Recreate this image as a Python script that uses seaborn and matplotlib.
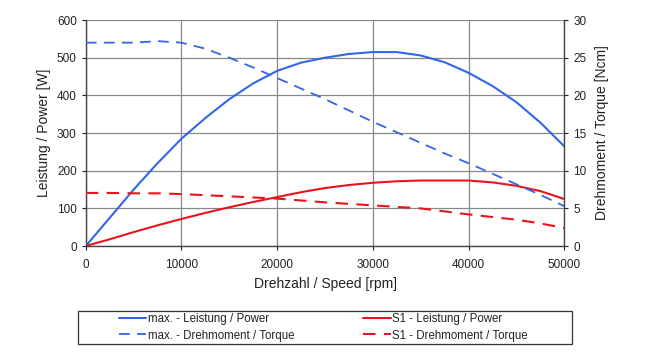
import matplotlib
matplotlib.use("Agg")
import matplotlib.pyplot as plt
from matplotlib.patches import Rectangle
import seaborn as sns
import pandas as pd

sns.set_theme(style="white")
plt.rcParams['font.family'] = ['Liberation Sans', 'DejaVu Sans']

speed = [0, 2500, 5000, 7500, 10000, 12500, 15000, 17500, 20000, 22500, 25000, 27500,
         30000, 32500, 35000, 37500, 40000, 42500, 45000, 47500, 50000]
max_power = [0, 75, 150, 220, 285, 340, 390, 432, 465, 487, 500, 510,
             515, 515, 506, 488, 460, 425, 382, 328, 265]
max_torque = [27.0, 27.0, 27.0, 27.2, 27.0, 26.2, 25.0, 23.7, 22.3, 20.9, 19.5, 18.0,
              16.5, 15.1, 13.7, 12.3, 11.0, 9.6, 8.2, 6.8, 5.3]
s1_power = [0, 18, 37, 55, 72, 88, 103, 117, 130, 143, 154, 162,
            168, 172, 174, 174, 174, 169, 160, 146, 125]
s1_torque = [7.05, 7.05, 7.0, 7.0, 6.9, 6.75, 6.6, 6.45, 6.3, 6.05, 5.8, 5.6,
             5.4, 5.2, 5.0, 4.6, 4.2, 3.85, 3.5, 3.0, 2.4]

df = pd.DataFrame({"speed": speed, "max_power": max_power, "max_torque": max_torque,
                   "s1_power": s1_power, "s1_torque": s1_torque})

blue = "#3366e6"
red = "#e8141b"

fig = plt.figure(figsize=(6.5, 3.52), dpi=100)
ax = fig.add_axes([0.132, 0.301, 0.736, 0.642])
ax2 = ax.twinx()

sns.lineplot(data=df, x="speed", y="max_power", ax=ax, color=blue, lw=1.5,
             label="max. - Leistung / Power", legend=False)
sns.lineplot(data=df, x="speed", y="s1_power", ax=ax, color=red, lw=1.5,
             label="S1 - Leistung / Power", legend=False)
sns.lineplot(data=df, x="speed", y="max_torque", ax=ax2, color=blue, lw=1.3,
             linestyle=(0, (6, 4)), label="max. - Drehmoment / Torque", legend=False)
sns.lineplot(data=df, x="speed", y="s1_torque", ax=ax2, color=red, lw=1.5,
             linestyle=(0, (6, 4)), label="S1 - Drehmoment / Torque", legend=False)

ax.set_xlim(0, 50000)
ax.set_ylim(0, 600)
ax2.set_ylim(0, 30)
ax.set_xticks([0, 10000, 20000, 30000, 40000, 50000])
ax.set_yticks(range(0, 601, 100))
ax2.set_yticks(range(0, 31, 5))
ax.grid(True, color="#888888", lw=0.9)
ax.set_axisbelow(True)

for a in (ax, ax2):
    a.tick_params(labelsize=8.5, colors="#222222", length=3, width=0.8, direction="out")
    for s in a.spines.values():
        s.set_visible(False)
ax.spines['left'].set_visible(True)
ax.spines['bottom'].set_visible(True)
ax2.spines['right'].set_visible(True)
for s in (ax.spines['left'], ax.spines['bottom'], ax2.spines['right']):
    s.set_color("#444444")
    s.set_linewidth(1.0)
ax.tick_params(axis='both', left=True, bottom=True)
ax.tick_params(axis='x', pad=6)
ax2.tick_params(axis='y', right=True)

ax.set_xlabel("Drehzahl / Speed [rpm]", fontsize=10, color="#222222", labelpad=5)
ax.set_ylabel("Leistung / Power [W]", fontsize=10, color="#222222")
ax2.set_ylabel("Drehmoment / Torque [Ncm]", fontsize=10, color="#222222", labelpad=6)

h1, l1 = ax.get_legend_handles_labels()
h2, l2 = ax2.get_legend_handles_labels()
handles = [h1[0], h2[0], h1[1], h2[1]]
labels = [l1[0], l2[0], l1[1], l2[1]]
leg = fig.legend(handles, labels, loc="center left", bbox_to_anchor=(113 / 650, 1 - 327.5 / 352),
                 ncol=2, fontsize=8.3, frameon=False, handlelength=2.4,
                 handletextpad=0.1, columnspacing=6.0, labelspacing=0.35,
                 borderpad=0.0)
for t in leg.get_texts():
    t.set_color("#222222")
fig.add_artist(Rectangle((78 / 650, 8 / 352), 494 / 650, 33 / 352,
                         transform=fig.transFigure, fill=False,
                         edgecolor="#333333", lw=0.9))

fig.savefig("out.png", dpi=100)
